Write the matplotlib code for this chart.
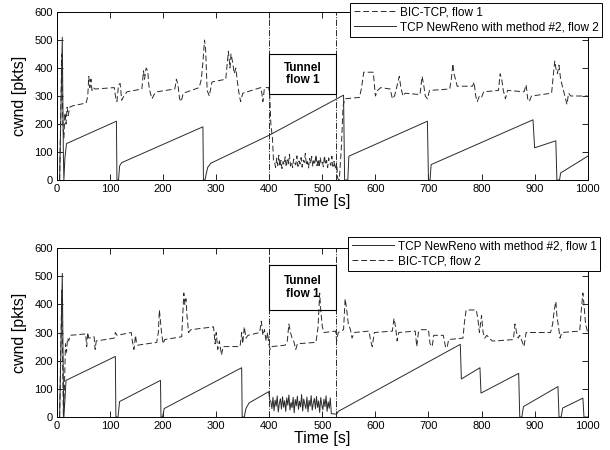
import matplotlib
matplotlib.use("Agg")
import matplotlib.pyplot as plt
from matplotlib.patches import Rectangle

plt.rcParams['font.family'] = ['Liberation Sans', 'DejaVu Sans']

# ---------------- data ----------------
# upper panel: BIC-TCP flow 1 (dashed)
TOP_BIC_T1 = [5, 9, 11, 13, 15, 17, 19, 21, 24, 30, 55, 58, 60, 62, 64, 66, 68, 72,
              108, 111, 113, 116, 119, 122, 126, 132, 160, 163, 165, 168, 171, 173,
              176, 179, 183, 188, 222, 225, 228, 231, 234, 238, 268, 272, 275, 278,
              280, 283, 287, 292, 318, 321, 323, 326, 328, 331, 334, 337, 340, 343,
              346, 350, 384, 386, 388, 391, 399, 401, 403, 406, 408]
TOP_BIC_V1 = [0, 450, 200, 150, 240, 200, 260, 230, 260, 265, 275, 300, 370, 330, 360,
              320, 330, 325, 330, 290, 280, 340, 345, 285, 300, 315, 325, 390, 360,
              400, 390, 340, 310, 290, 305, 315, 325, 360, 340, 290, 280, 310, 330,
              360, 420, 500, 470, 320, 300, 350, 360, 420, 460, 400, 450, 420, 380,
              400, 350, 310, 280, 310, 330, 310, 280, 330, 330, 300, 200, 150, 70]
# tunnel period, 2 s samples from t = 410
TOP_BIC_NOISE = [62, 45, 78, 52, 88, 48, 70, 41, 66, 55, 83, 47, 72, 58, 92, 50, 63, 44,
                 75, 60, 54, 86, 49, 68, 57, 80, 46, 71, 62, 95, 53, 66, 43, 77, 59, 84,
                 48, 69, 56, 90, 51, 74, 45, 81, 58, 65, 47, 87, 55, 70, 44, 79, 60, 52,
                 85, 49, 67, 40]
TOP_BIC_T2 = [527, 529, 532, 536, 539, 542, 570, 574, 578, 596, 600, 604, 610, 628, 632,
              636, 640, 645, 648, 652, 656, 684, 688, 691, 694, 698, 702, 740, 743, 746,
              748, 751, 754, 783, 786, 789, 792, 796, 800, 804, 832, 835, 838, 841, 845,
              849, 880, 884, 887, 890, 894, 932, 935, 938, 940, 943, 946, 949, 953, 957,
              961, 964, 968, 1000]
TOP_BIC_V2 = [60, 5, 0, 120, 260, 290, 295, 330, 385, 385, 300, 320, 330, 325, 290, 300,
              330, 370, 330, 300, 310, 305, 370, 340, 300, 290, 320, 325, 360, 415, 380,
              360, 335, 335, 350, 300, 280, 300, 295, 315, 320, 380, 360, 320, 290, 320,
              315, 340, 290, 280, 300, 310, 370, 425, 400, 380, 410, 360, 330, 300, 270,
              310, 300, 300]

# upper panel: TCP NewReno flow 2 (solid)
TOP_RENO_T = [5, 8, 10, 12, 13, 15, 18, 112, 113, 116, 118, 122, 275, 276, 279, 281,
              284, 290, 400, 540, 542, 548, 550, 698, 700, 703, 705, 897, 900, 940, 942,
              947, 949, 1000]
TOP_RENO_V = [0, 300, 510, 100, 0, 80, 130, 210, 0, 0, 50, 62, 190, 0, 0, 20, 45, 60,
              160, 303, 0, 0, 85, 210, 0, 0, 55, 215, 115, 140, 0, 0, 25, 85]

# lower panel: TCP NewReno flow 1 (solid)
BOT_RENO_T1 = [5, 8, 10, 12, 13, 15, 17, 110, 111, 115, 118, 195, 196, 199, 202, 348,
               349, 353, 356, 362, 399, 401]
BOT_RENO_V1 = [0, 300, 510, 120, 0, 60, 130, 215, 0, 0, 55, 130, 0, 0, 30, 175, 0, 0,
               30, 50, 90, 60]
# tunnel period, 2 s samples from t = 403
BOT_RENO_NOISE = [55, 30, 70, 22, 60, 38, 75, 18, 48, 65, 28, 72, 35, 58, 20, 68, 42, 78,
                  25, 52, 33, 70, 15, 62, 40, 74, 27, 56, 36, 80, 21, 64, 45, 30, 71, 18,
                  59, 38, 76, 24, 50, 66, 29, 73, 34, 57, 16, 69, 43, 26, 63, 37, 75, 20,
                  54, 31, 68, 12]
BOT_RENO_T2 = [527, 530, 760, 762, 797, 799, 870, 872, 876, 879, 944, 946, 950, 953, 991,
               993, 1000]
BOT_RENO_V2 = [10, 20, 258, 135, 175, 85, 155, 0, 0, 37, 108, 0, 0, 32, 67, 0, 0]

# lower panel: BIC-TCP flow 2 (dashed)
BOT_BIC_T = [5, 9, 11, 12, 14, 16, 18, 20, 22, 25, 54, 56, 58, 60, 70, 72, 74, 108, 110,
             113, 140, 142, 145, 148, 150, 152, 188, 191, 193, 195, 197, 200, 203, 235,
             237, 239, 241, 243, 245, 248, 252, 295, 298, 300, 303, 306, 310, 313, 345,
             348, 350, 353, 356, 360, 382, 385, 388, 391, 394, 397, 399, 402, 405, 430,
             434, 437, 440, 443, 446, 450, 453, 488, 492, 495, 497, 500, 503, 525, 527,
             530, 540, 543, 546, 549, 553, 556, 560, 588, 591, 594, 598, 632, 635, 638,
             641, 644, 675, 678, 681, 685, 700, 703, 707, 710, 728, 732, 735, 738, 765,
             768, 771, 790, 793, 796, 800, 803, 806, 810, 820, 826, 860, 863, 866, 869,
             872, 880, 884, 930, 934, 937, 940, 942, 945, 948, 951, 985, 988, 991, 993,
             996, 1000]
BOT_BIC_V = [0, 450, 150, 0, 100, 260, 230, 280, 270, 290, 295, 250, 300, 280, 285, 240,
             270, 280, 300, 290, 300, 270, 240, 290, 260, 255, 265, 300, 380, 340, 300,
             260, 275, 285, 360, 440, 400, 420, 360, 300, 310, 320, 260, 300, 240, 270,
             220, 250, 250, 300, 260, 320, 280, 290, 300, 340, 290, 310, 270, 300, 260,
             240, 250, 255, 270, 330, 300, 280, 270, 240, 260, 265, 320, 440, 380, 320,
             300, 305, 270, 300, 310, 420, 380, 330, 310, 280, 300, 305, 270, 250, 300,
             305, 350, 320, 270, 300, 305, 250, 300, 310, 310, 260, 250, 290, 290, 250,
             245, 275, 280, 340, 380, 380, 350, 300, 360, 300, 280, 290, 270, 270, 275,
             330, 300, 280, 290, 250, 300, 300, 330, 380, 410, 360, 320, 280, 300, 305,
             380, 440, 400, 330, 300]

TUNNEL_START = 400
TUNNEL_END = 525

LINE_C = '#2a2a2a'


def noise_times(start, vals):
    return [start + 2 * i for i in range(len(vals))]


top_bic_t = TOP_BIC_T1 + noise_times(410, TOP_BIC_NOISE) + TOP_BIC_T2
top_bic_v = TOP_BIC_V1 + TOP_BIC_NOISE + TOP_BIC_V2
bot_reno_t = BOT_RENO_T1 + noise_times(403, BOT_RENO_NOISE) + BOT_RENO_T2
bot_reno_v = BOT_RENO_V1 + BOT_RENO_NOISE + BOT_RENO_V2


def style_axes(ax, tunnel_box):
    ax.set_xlim(0, 1000)
    ax.set_ylim(0, 600)
    ax.set_xticks(range(0, 1001, 100))
    ax.set_yticks(range(0, 601, 100))
    ax.tick_params(direction='in', length=4, width=0.6, top=True, right=True,
                   labelsize=8, pad=3)
    for sp in ax.spines.values():
        sp.set_linewidth(0.7)
    ax.set_xlabel('Time [s]', fontsize=11.5, labelpad=0)
    ax.set_ylabel('cwnd [pkts]', fontsize=11.5, labelpad=5)
    ax.axvline(TUNNEL_START, color=LINE_C, lw=0.7, ls='-.')
    ax.axvline(TUNNEL_END, color=LINE_C, lw=0.7, ls='-.')
    y0, y1 = tunnel_box
    ax.add_patch(Rectangle((TUNNEL_START, y0), TUNNEL_END - TUNNEL_START, y1 - y0,
                           fill=False, edgecolor='black', lw=0.8, zorder=4))
    ax.text((TUNNEL_START + TUNNEL_END) / 2, (y0 + y1) / 2, 'Tunnel\nflow 1',
            ha='center', va='center', fontsize=8.5, fontweight='bold', zorder=5,
            linespacing=1.1)


fig = plt.figure(figsize=(6.1, 4.5), dpi=100)
ax1 = fig.add_axes([0.0934, 0.600, 0.870, 0.3733])
ax2 = fig.add_axes([0.0934, 0.0733, 0.870, 0.3756])

# upper panel
l1, = ax1.plot(top_bic_t, top_bic_v, color=LINE_C, lw=0.7, dashes=[6, 3])
l2, = ax1.plot(TOP_RENO_T, TOP_RENO_V, color=LINE_C, lw=0.7)
style_axes(ax1, (307, 450))
leg1 = fig.legend([l1, l2], ['BIC-TCP, flow 1', 'TCP NewReno with method #2, flow 2'],
                  loc='upper right', bbox_to_anchor=(602 / 610, 1 - 3 / 450),
                  fontsize=8.5, frameon=True, fancybox=False, handlelength=3.6,
                  borderpad=0.3, labelspacing=0.25, handletextpad=0.3,
                  borderaxespad=0)
leg1.get_frame().set_edgecolor('black')
leg1.get_frame().set_linewidth(0.7)
leg1.get_frame().set_alpha(1)

# lower panel
l3, = ax2.plot(bot_reno_t, bot_reno_v, color=LINE_C, lw=0.7)
l4, = ax2.plot(BOT_BIC_T, BOT_BIC_V, color=LINE_C, lw=0.7, dashes=[6, 3])
style_axes(ax2, (380, 540))
leg2 = fig.legend([l3, l4], ['TCP NewReno with method #2, flow 1', 'BIC-TCP, flow 2'],
                  loc='upper right', bbox_to_anchor=(600 / 610, 1 - 237 / 450),
                  fontsize=8.5, frameon=True, fancybox=False, handlelength=3.6,
                  borderpad=0.3, labelspacing=0.25, handletextpad=0.3,
                  borderaxespad=0)
leg2.get_frame().set_edgecolor('black')
leg2.get_frame().set_linewidth(0.7)
leg2.get_frame().set_alpha(1)

fig.savefig('out.png', dpi=100)
